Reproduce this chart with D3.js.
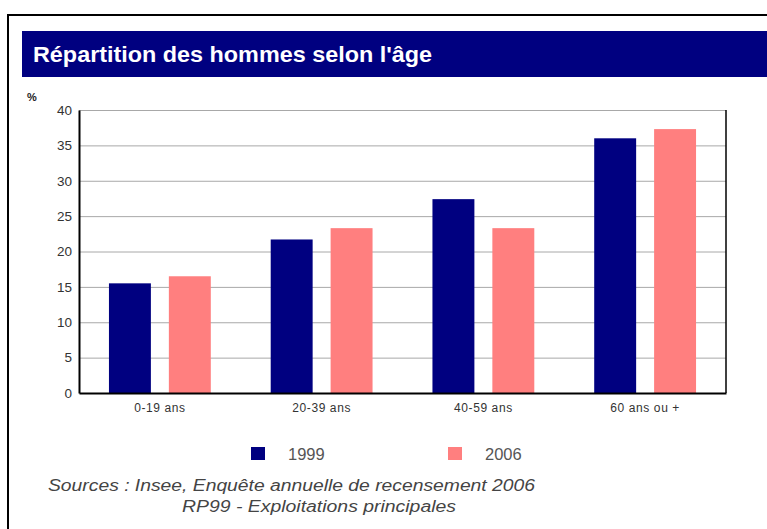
<!DOCTYPE html>
<html>
<head>
<meta charset="utf-8">
<script src="https://cdn.jsdelivr.net/npm/d3@7"></script>
<style>
  html, body { margin: 0; padding: 0; background: #fff; }
  svg { display: block; }
</style>
</head>
<body>
<svg id="chart"></svg>
<script>
// data
const categories = ["0-19 ans", "20-39 ans", "40-59 ans", "60 ans ou +"];
const years = ["1999", "2006"];
const values1999 = [15.5, 21.7, 27.4, 36.0];
const values2006 = [16.5, 23.3, 23.3, 37.3];
const yTicks = [0, 5, 10, 15, 20, 25, 30, 35, 40];
const titleText = "Répartition des hommes selon l'âge";
const sourceLines = ["Sources : Insee, Enquête annuelle de recensement 2006", "RP99 - Exploitations principales"];

document.addEventListener("DOMContentLoaded", function() {
   const width = 767;
   const height = 529;
   const margin = { top: 110, right: 41, bottom: 136, left: 79 };

   const svg = d3.select("#chart")
       .attr("width", width)
       .attr("height", height);

   const color = d3.scaleOrdinal().domain(years).range(["#000080", "#ff7f7f"]);

   const rows = categories.map((c, i) => ({
       category: c,
       values: [{ year: "1999", v: values1999[i] }, { year: "2006", v: values2006[i] }]
   }));

   // outer frame + title band
   svg.append("rect")
       .attr("x", 8).attr("y", 15)
       .attr("width", width).attr("height", height)
       .attr("fill", "#fff")
       .attr("stroke", "#000")
       .attr("stroke-width", 2);

   svg.append("rect")
       .attr("x", 22).attr("y", 31)
       .attr("width", width).attr("height", 46)
       .attr("fill", "#000080");

   svg.append("text")
       .attr("x", 33).attr("y", 62)
       .attr("fill", "#fff")
       .attr("font-family", "Liberation Sans, Arial, sans-serif")
       .attr("font-weight", "bold")
       .attr("font-size", 22)
       .attr("textLength", 399)
       .attr("lengthAdjust", "spacingAndGlyphs")
       .text(titleText);

   const x0 = d3.scaleBand()
       .domain(categories)
       .range([margin.left, width - margin.right])
       .padding(0);

   const x1 = d3.scaleBand()
       .domain(years)
       .range([0, x0.bandwidth()])
       .paddingInner(0.3)
       .paddingOuter(0.5);

   const y = d3.scaleLinear()
       .domain([0, 40])
       .range([height - margin.bottom, margin.top]);

   // gridlines
   svg.append("g")
       .selectAll("line")
       .data(yTicks.filter(d => d > 0))
       .join("line")
       .attr("x1", margin.left)
       .attr("x2", width - margin.right)
       .attr("y1", d => y(d) + 0.5)
       .attr("y2", d => y(d) + 0.5)
       .attr("stroke", "#a8a8a8")
       .attr("stroke-width", 1);

   // bars
   const groups = svg.append("g")
       .selectAll("g")
       .data(rows)
       .join("g")
       .attr("transform", d => `translate(${x0(d.category)},0)`);

   groups.selectAll("rect")
       .data(d => d.values)
       .join("rect")
       .attr("x", d => x1(d.year))
       .attr("width", x1.bandwidth())
       .attr("y", d => y(d.v))
       .attr("height", d => y(0) - y(d.v))
       .attr("fill", d => color(d.year));

   // y axis
   const yAxis = svg.append("g")
       .attr("transform", `translate(${margin.left},0)`)
       .call(d3.axisLeft(y).tickValues(yTicks).tickSize(0).tickPadding(7));
   yAxis.select(".domain").attr("stroke", "#000").attr("stroke-width", 2);
   yAxis.selectAll("text")
       .attr("font-family", "Liberation Sans, Arial, sans-serif")
       .attr("font-size", 13.5)
       .attr("fill", "#333");

   // right border
   svg.append("line")
       .attr("x1", width - margin.right).attr("x2", width - margin.right)
       .attr("y1", margin.top).attr("y2", y(0))
       .attr("stroke", "#000").attr("stroke-width", 1.5);

   // x axis
   const xAxis = svg.append("g")
       .attr("transform", `translate(0,${y(0)})`)
       .call(d3.axisBottom(x0).tickSize(0).tickPadding(10));
   xAxis.select(".domain").attr("stroke", "#000").attr("stroke-width", 2);
   xAxis.selectAll("text")
       .attr("font-family", "Liberation Sans, Arial, sans-serif")
       .attr("font-size", 12)
       .attr("letter-spacing", 0.6)
       .attr("fill", "#333");

   svg.append("text")
       .attr("x", 27).attr("y", 101)
       .attr("font-family", "Liberation Sans, Arial, sans-serif")
       .attr("font-size", 11)
       .attr("font-weight", "bold")
       .attr("fill", "#222")
       .text("%");

   // legend
   const legendX = [251, 448];
   const legend = svg.append("g")
       .selectAll("g")
       .data(years)
       .join("g")
       .attr("transform", (d, i) => `translate(${legendX[i]},447)`);
   legend.append("rect")
       .attr("width", 14).attr("height", 13)
       .attr("fill", d => color(d));
   legend.append("text")
       .attr("x", 37).attr("y", 12.5)
       .attr("font-family", "Liberation Sans, Arial, sans-serif")
       .attr("font-size", 16.5)
       .attr("fill", "#555")
       .text(d => d);

   // sources
   svg.append("g")
       .selectAll("text")
       .data(sourceLines)
       .join("text")
       .attr("x", (d, i) => i === 0 ? 48 : 182)
       .attr("y", (d, i) => 491 + i * 21)
       .attr("font-family", "Liberation Sans, Arial, sans-serif")
       .attr("font-style", "italic")
       .attr("font-size", 16)
       .attr("fill", "#444")
       .attr("textLength", (d, i) => i === 0 ? 487 : 274)
       .attr("lengthAdjust", "spacingAndGlyphs")
       .text(d => d);
});
</script>
</body>
</html>
